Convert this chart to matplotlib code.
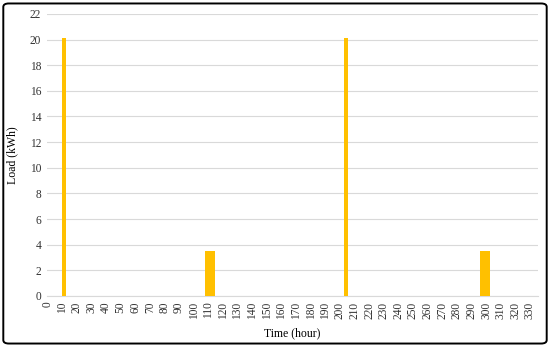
import matplotlib
matplotlib.use("Agg")
import matplotlib.pyplot as plt
from matplotlib.patches import FancyBboxPatch
import numpy as np

# hourly load over two weeks, only a few non-zero hours
n_hours = 336
peak_hours = [10, 11, 12, 203, 204, 205]
peak_load = 20.1
low_hours = [108, 109, 110, 111, 112, 113, 114, 296, 297, 298, 299, 300, 301, 302]
low_load = 3.5

hours = np.arange(n_hours)
load = np.zeros(n_hours)
load[peak_hours] = peak_load
load[low_hours] = low_load

x_ticks = list(range(0, 331, 10))
y_ticks = list(range(0, 23, 2))

plt.rcParams['font.family'] = ['Liberation Serif', 'DejaVu Serif']

fig = plt.figure(figsize=(5.5, 3.47), dpi=100)
ax = fig.add_axes([0.085, 0.147, 0.893, 0.813])

ax.bar(hours + 0.3, load, width=1.0, color='#FFC000', linewidth=0, zorder=3)

ax.set_xlim(-0.5, n_hours - 0.5)
ax.set_ylim(0, 22)
ax.set_xticks(x_ticks)
ax.set_xticklabels([str(t) for t in x_ticks], rotation=90, fontsize=8.3)
ax.set_yticks(y_ticks)
ax.set_yticklabels([str(t) for t in y_ticks], fontsize=8.3)
ax.tick_params(length=0, pad=4, colors='#333333')

ax.grid(axis='y', color='#d9d9d9', linewidth=0.8, zorder=0)
for s in ['top', 'right', 'left']:
    ax.spines[s].set_visible(False)
ax.spines['bottom'].set_color('#d9d9d9')
ax.spines['bottom'].set_linewidth(0.8)

ax.set_xlabel('Time (hour)', fontsize=8.5, labelpad=6)
ax.set_ylabel('Load (kWh)', fontsize=8.5, labelpad=8)

# outer border around the whole chart
border = FancyBboxPatch((0.006, 0.01), 0.988, 0.98, boxstyle='round,pad=0,rounding_size=0.01',
                        transform=fig.transFigure, fill=False, edgecolor='black', linewidth=1.4)
fig.patches.append(border)

fig.savefig('out.png', dpi=100)
